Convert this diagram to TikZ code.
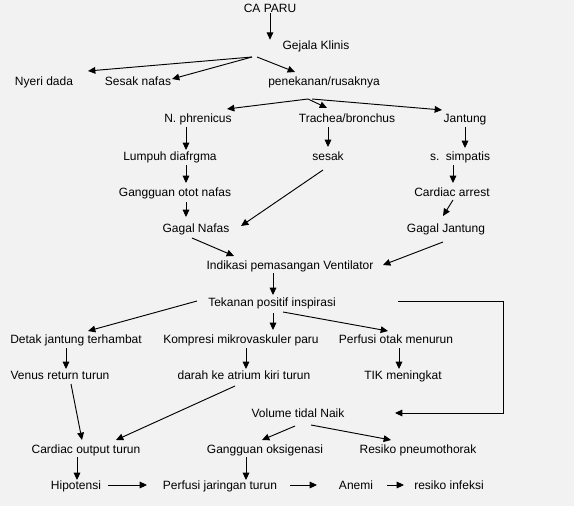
\documentclass[tikz,border=0pt]{standalone}
\usepackage{fontspec}
\setmainfont{Liberation Sans}
\usetikzlibrary{arrows.meta,calc}
\definecolor{paper}{HTML}{F2F2F2}
\definecolor{ink}{HTML}{000000}
\tikzset{
  >={Triangle[length=5.5pt,width=5pt]},
  every node/.style={font=\fontsize{9}{11}\selectfont,text=ink},
  item/.style={inner sep=0pt,text height=7pt,text depth=0.6pt},
  arrow/.style={->,line width=0.7pt,draw=ink},
}

\begin{document}
\begin{tikzpicture}[x=0.75pt,y=-0.75pt]
\fill[paper] (0,0) rectangle (574,506);
\useasboundingbox (0,0) rectangle (574,506);

% top
\node[item] (ca) at (270,8) {CA PARU};
\node[item] (gejala) at (316,45) {Gejala Klinis};
\node[item] (nyeri) at (44,81) {Nyeri dada};
\node[item] (sesaknafas) at (138,81) {Sesak nafas};
\node[item] (penekanan) at (324,81) {penekanan/rusaknya};

% three branches
\node[item] (phrenicus) at (198,118) {N. phrenicus};
\node[item] (trachea) at (347,118) {Trachea/bronchus};
\node[item] (jantung) at (465,118) {Jantung};
\node[item] (lumpuh) at (170,156) {Lumpuh diafrgma};
\node[item] (sesak) at (328,156) {sesak};
\node[item] (simpatis) at (460,156) {s.~~simpatis};
\node[item] (otot) at (175,192) {Gangguan otot nafas};
\node[item] (arrest) at (452,192) {Cardiac arrest};
\node[item] (gagalnafas) at (196,228) {Gagal Nafas};
\node[item] (gagaljantung) at (446,228) {Gagal Jantung};

% ventilator
\node[item] (indikasi) at (290,265) {Indikasi pemasangan Ventilator};
\node[item] (tekanan) at (272,302) {Tekanan positif inspirasi};
\node[item] (detak) at (76,339) {Detak jantung terhambat};
\node[item] (kompresi) at (241,339) {Kompresi mikrovaskuler paru};
\node[item] (perfusiotak) at (396,339) {Perfusi otak menurun};
\node[item] (venus) at (60,375) {Venus return turun};
\node[item] (darah) at (244,375) {darah ke atrium kiri turun};
\node[item] (tik) at (403,375) {TIK meningkat};
\node[item] (volume) at (298,413) {Volume tidal Naik};

% bottom rows
\node[item] (output) at (86,449) {Cardiac output turun};
\node[item] (oksigenasi) at (265,449) {Gangguan oksigenasi};
\node[item] (pneumo) at (418,449) {Resiko pneumothorak};
\node[item] (hipotensi) at (76,485) {Hipotensi};
\node[item] (perfusi) at (220,485) {Perfusi jaringan turun};
\node[item] (anemi) at (356,485) {Anemi};
\node[item] (infeksi) at (449,485) {resiko infeksi};

% arrows top
\draw[arrow] (ca.south) -- (ca.south |- gejala.north);
\draw[arrow] ($(gejala)+(-64,12)$) -- ($(nyeri)+(44,-10)$);
\draw[arrow] ($(gejala)+(-64,12)$) -- ($(sesaknafas)+(34,-2)$);
\draw[arrow] ($(gejala)+(-59,12)$) -- ($(penekanan)+(-29,-9)$);
\draw[arrow] ($(penekanan)+(-16,18)$) -- ($(phrenicus)+(29,-9)$);
\draw[arrow] ($(penekanan)+(-16,18)$) -- ($(trachea)+(-20,-10)$);
\draw[arrow] ($(penekanan)+(-12,18)$) -- ($(jantung)+(-23,-8)$);

% arrows branches
\draw[arrow] ($(phrenicus)+(-12,9)$) -- ($(lumpuh)+(16,-6)$);
\draw[arrow] ($(trachea)+(-19,9)$) -- ($(sesak)+(0,-9)$);
\draw[arrow] ($(jantung)+(0,9)$) -- ($(simpatis)+(5,-8)$);
\draw[arrow] ($(lumpuh)+(16,9)$) -- ($(otot)+(11,-9)$);
\draw[arrow] ($(simpatis)+(-7,9)$) -- ($(arrest)+(1,-9)$);
\draw[arrow] ($(otot)+(11,10)$) -- ($(gagalnafas)+(-10,-11)$);
\draw[arrow] ($(sesak)+(-5,14)$) -- ($(gagalnafas)+(45,-2)$);
\draw[arrow] ($(arrest)+(1,8)$) -- ($(gagaljantung)+(-3,-12)$);
\draw[arrow] ($(gagalnafas)+(-4,10)$) -- ($(indikasi)+(-56,-9)$);
\draw[arrow] ($(gagaljantung)+(-3,14)$) -- ($(indikasi)+(93,0)$);

% arrows ventilator
\draw[arrow] ($(indikasi)+(-17,8)$) -- ($(tekanan)+(1,-7)$);
\draw[arrow] ($(tekanan)+(-75,-1)$) -- ($(detak)+(12,-8)$);
\draw[arrow] ($(tekanan)+(1,11)$) -- ($(kompresi)+(32,-9)$);
\draw[arrow] ($(tekanan)+(11,10)$) -- ($(perfusiotak)+(-8,-8)$);
\draw[arrow] ($(tekanan)+(126,-1)$) -| ($(volume)+(205,0)$) -- ($(volume)+(97,0)$);
\draw[arrow] ($(detak)+(-10,9)$) -- ($(venus)+(6,-6)$);
\draw[arrow] ($(kompresi)+(5,9)$) -- ($(darah)+(2,-6)$);
\draw[arrow] ($(perfusiotak)+(3,9)$) -- ($(tik)+(-4,-6)$);

% arrows bottom
\draw[arrow] ($(venus)+(11,9)$) -- ($(output)+(-4,-9)$);
\draw[arrow] ($(darah)+(-9,11)$) -- ($(output)+(30,-9)$);
\draw[arrow] ($(volume)+(-3,13)$) -- ($(oksigenasi)+(-3,-9)$);
\draw[arrow] ($(volume)+(13,12)$) -- ($(pneumo)+(-27,-9)$);
\draw[arrow] ($(output)+(-9,8)$) -- ($(hipotensi)+(1,-5)$);
\draw[arrow] ($(oksigenasi)+(-19,8)$) -- ($(perfusi)+(26,-5)$);
\draw[arrow] ($(hipotensi)+(32,0)$) -- ($(perfusi)+(-73,0)$);
\draw[arrow] ($(perfusi)+(70,0)$) -- ($(anemi)+(-39,0)$);
\draw[arrow] ($(anemi)+(31,0)$) -- ($(infeksi)+(-45,0)$);

\end{tikzpicture}
\end{document}
